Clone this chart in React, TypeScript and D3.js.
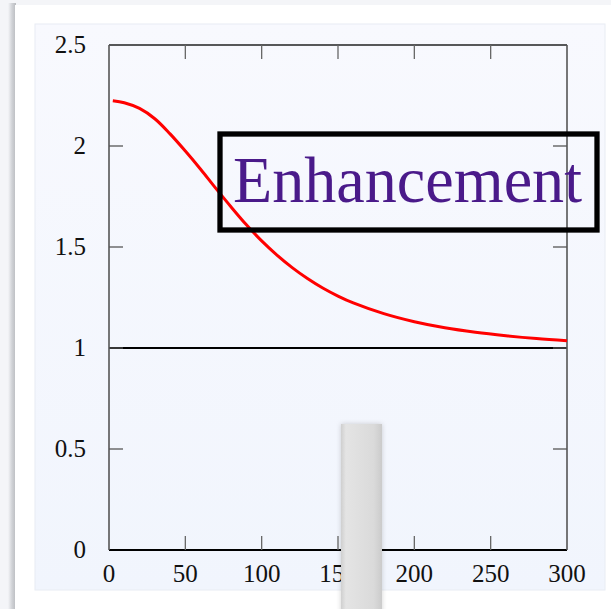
import React from "react";
import * as d3 from "d3";

// Enhancement factor vs. distance
const xValues = [2.5, 10, 20, 30, 40, 50, 60, 70, 80, 90, 100, 110, 120, 130, 140, 150, 160, 180, 200, 220, 240, 260, 280, 300];
const yValues = [2.224, 2.214, 2.186, 2.135, 2.06, 1.975, 1.885, 1.79, 1.698, 1.61, 1.53, 1.46, 1.398, 1.344, 1.297, 1.257, 1.223, 1.17, 1.13, 1.1, 1.078, 1.061, 1.047, 1.036];
const xTicks = [0, 50, 100, 150, 200, 250, 300];
const yTicks = [0, 0.5, 1, 1.5, 2, 2.5];
const yTickLabels = ["0", "0.5", "1", "1.5", "2", "2.5"];
const referenceLevel = 1;
const title = "Enhancement";

const W = 611;
const H = 609;
const plot = { left: 109, right: 567, top: 45, bottom: 550 };
const TICK = 14;
const FONT = "'Liberation Serif', 'Times New Roman', serif";

export default function App() {
  const x = d3.scaleLinear().domain([0, 300]).range([plot.left, plot.right]);
  const y = d3.scaleLinear().domain([0, 2.5]).range([plot.bottom, plot.top]);
  const points: [number, number][] = xValues.map((v, i) => [v, yValues[i]]);
  const line = d3
    .line<[number, number]>()
    .x((d) => x(d[0]))
    .y((d) => y(d[1]))
    .curve(d3.curveCatmullRom.alpha(0.5));

  return (
    <svg
      width={W}
      height={H}
      style={{ position: "absolute", left: 0, top: 0, display: "block" }}
    >
      <defs>
        <linearGradient id="panelGrad" x1="0" y1="0" x2="0" y2="1">
          <stop offset="0" stopColor="#f8f9fe" />
          <stop offset="1" stopColor="#f1f5fd" />
        </linearGradient>
        <linearGradient id="shadowGrad" x1="0" y1="0" x2="1" y2="0">
          <stop offset="0" stopColor="#f4f5f8" />
          <stop offset="0.5" stopColor="#d0d2d6" />
          <stop offset="1" stopColor="#b9bbbf" />
        </linearGradient>
        <linearGradient id="barGrad" x1="0" y1="0" x2="1" y2="0">
          <stop offset="0" stopColor="#cfcfcf" />
          <stop offset="0.12" stopColor="#e4e4e4" />
          <stop offset="0.8" stopColor="#dadada" />
          <stop offset="1" stopColor="#cbcbcb" />
        </linearGradient>
        <filter id="barShadow" x="-30%" y="-10%" width="160%" height="130%">
          <feDropShadow dx="0" dy="0" stdDeviation="2.5" floodColor="#000" floodOpacity="0.18" />
        </filter>
      </defs>

      {/* page and card */}
      <rect x={0} y={0} width={W} height={H} fill="#f4f5f8" />
      <rect x={8} y={3} width={8} height={H} fill="url(#shadowGrad)" />
      <rect x={15} y={5} width={W - 15} height={H - 5} fill="#ffffff" />

      {/* chart panel */}
      <rect x={35} y={24} width={570} height={566} fill="url(#panelGrad)" stroke="#e8ecf3" strokeWidth={1} />

      {/* reference level */}
      <line
        x1={plot.left}
        x2={plot.right}
        y1={y(referenceLevel)}
        y2={y(referenceLevel)}
        stroke="#000"
        strokeWidth={2}
      />

      {/* frame */}
      <line x1={plot.left} x2={plot.right} y1={plot.top} y2={plot.top} stroke="#222" strokeWidth={1.4} />
      <line x1={plot.left} x2={plot.right} y1={plot.bottom} y2={plot.bottom} stroke="#000" strokeWidth={2} />
      <line x1={plot.left} x2={plot.left} y1={plot.top} y2={plot.bottom} stroke="#555" strokeWidth={1.6} />
      <line x1={plot.right} x2={plot.right} y1={plot.top} y2={plot.bottom} stroke="#555" strokeWidth={1.6} />

      {/* x ticks, bottom and top */}
      {xTicks.slice(1, -1).map((t) => (
        <g key={"xt" + t} stroke="#666" strokeWidth={1.3}>
          <line x1={x(t)} x2={x(t)} y1={plot.bottom} y2={plot.bottom - TICK} />
          <line x1={x(t)} x2={x(t)} y1={plot.top} y2={plot.top + TICK} />
        </g>
      ))}
      {/* y ticks, left and right */}
      {yTicks.slice(1, -1).map((t) => (
        <g key={"yt" + t} stroke="#555" strokeWidth={1.3}>
          <line x1={plot.left} x2={plot.left + TICK} y1={y(t)} y2={y(t)} />
          <line x1={plot.right} x2={plot.right - TICK} y1={y(t)} y2={y(t)} />
        </g>
      ))}

      {/* tick labels */}
      {xTicks.map((t) => (
        <text
          key={"xl" + t}
          x={x(t)}
          y={582}
          textAnchor="middle"
          fontFamily={FONT}
          fontSize={25}
          fill="#111"
        >
          {t}
        </text>
      ))}
      {yTicks.map((t, i) => (
        <text
          key={"yl" + t}
          x={86}
          y={y(t) + 8}
          textAnchor="end"
          fontFamily={FONT}
          fontSize={25}
          fill="#111"
        >
          {yTickLabels[i]}
        </text>
      ))}

      {/* enhancement curve */}
      <path d={line(points) ?? ""} fill="none" stroke="#ff0000" strokeWidth={3} />

      {/* title box */}
      <rect x={220} y={134} width={377} height={96} fill="none" stroke="#000" strokeWidth={5.3} />
      <text
        x={233}
        y={202}
        fontFamily={FONT}
        fontSize={66}
        fill="#4a1a8a"
        textLength={349}
        lengthAdjust="spacingAndGlyphs"
      >
        {title}
      </text>

      {/* scroll handle */}
      <rect x={341} y={424} width={41} height={H - 424 + 5} fill="url(#barGrad)" filter="url(#barShadow)" />
    </svg>
  );
}
